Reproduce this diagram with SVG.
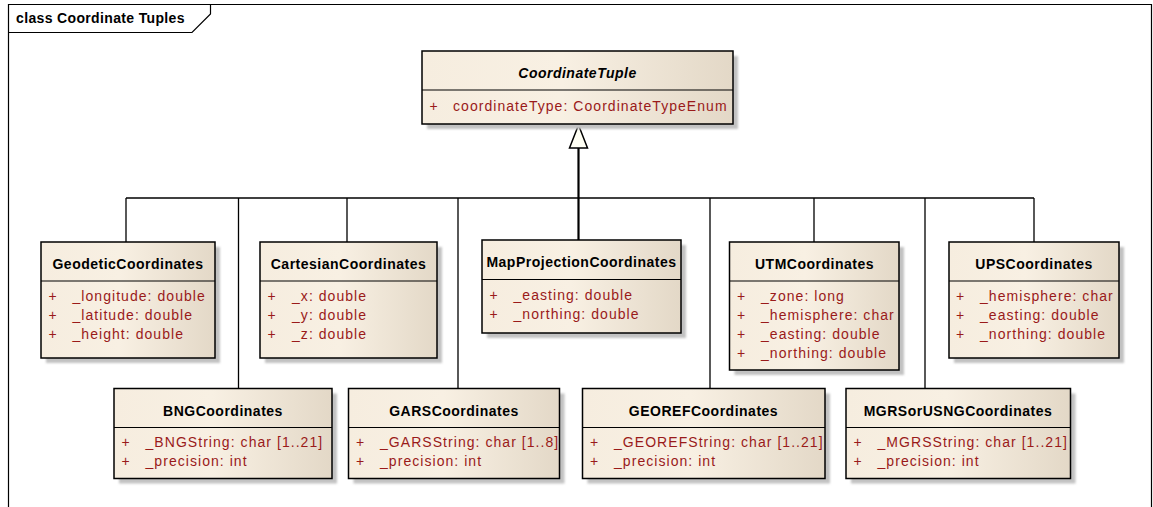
<svg xmlns="http://www.w3.org/2000/svg" width="1153" height="507" viewBox="0 0 1153 507">
<defs>
<linearGradient id="fill" x1="0" y1="0" x2="1" y2="0">
<stop offset="0" stop-color="#f6eddf"/>
<stop offset="0.45" stop-color="#f8f0e3"/>
<stop offset="1" stop-color="#e3d8c7"/>
</linearGradient>
<filter id="blur" x="-5%" y="-5%" width="110%" height="110%"><feGaussianBlur stdDeviation="0.8"/></filter>
</defs>
<style>
.shadow{fill:#c2c2c2;filter:url(#blur)}
.box{fill:url(#fill);stroke:#000;stroke-width:1.5}
.div{stroke:#000;stroke-width:1.2}
.title{font-family:"Liberation Sans",Arial,sans-serif;font-size:14px;font-weight:bold;fill:#000;text-anchor:middle;letter-spacing:0.5px}
.attr{font-family:"Liberation Sans",Arial,sans-serif;font-size:14px;fill:#9a1a1a;letter-spacing:1.05px}
.frame{fill:none;stroke:#000;stroke-width:1.2}
.conn{fill:none;stroke:#000;stroke-width:1.3}
</style>
<rect width="1153" height="507" fill="#fff"/>
<g id="frame">
<path class="frame" d="M8.5,507 V4.5 H1151.5 V507"/>
<path class="frame" d="M8.5,32.5 H192 L210.5,14 V4.5"/>
<text x="16" y="23" style="font-family:'Liberation Sans',Arial,sans-serif;font-size:14px;font-weight:bold;letter-spacing:0.35px">class Coordinate Tuples</text>
</g>
<g id="connectors">
<path class="conn" d="M126,198 H1034"/>
<path class="conn" d="M126,198 V242 M238.5,198 V388.5 M347,198 V242 M458,198 V388.5 M710,198 V388.5 M814,198 V242 M925,198 V388.5 M1034,198 V242"/>
<path d="M578.5,148 V240" stroke="#000" stroke-width="2.2" fill="none"/>
<polygon points="578.5,125 569.5,148 587.5,148" fill="#fffff4" stroke="#000" stroke-width="1.5" stroke-linejoin="miter"/>
</g>
<g id="CoordinateTuple">
<rect class="shadow" x="427" y="56" width="311" height="73"/>
<rect class="box" x="422" y="51" width="311" height="73"/>
<line class="div" x1="422" y1="90" x2="733" y2="90"/>
<text class="title" x="577.5" y="78" font-style="italic">CoordinateTuple</text>
<text class="attr" x="429.5" y="111">+</text>
<text class="attr" x="453" y="111">coordinateType: CoordinateTypeEnum</text>
</g>
<g id="GeodeticCoordinates">
<rect class="shadow" x="46" y="247" width="174" height="116"/>
<rect class="box" x="41" y="242" width="174" height="116"/>
<line class="div" x1="41" y1="281" x2="215" y2="281"/>
<text class="title" x="128" y="269">GeodeticCoordinates</text>
<text class="attr" x="48.5" y="301">+</text><text class="attr" x="72.5" y="301">_longitude: double</text>
<text class="attr" x="48.5" y="320">+</text><text class="attr" x="72.5" y="320">_latitude: double</text>
<text class="attr" x="48.5" y="339">+</text><text class="attr" x="72.5" y="339">_height: double</text>
</g>
<g id="CartesianCoordinates">
<rect class="shadow" x="265" y="247" width="177" height="116"/>
<rect class="box" x="260" y="242" width="177" height="116"/>
<line class="div" x1="260" y1="281" x2="437" y2="281"/>
<text class="title" x="348.5" y="269">CartesianCoordinates</text>
<text class="attr" x="267.5" y="301">+</text><text class="attr" x="292" y="301">_x: double</text>
<text class="attr" x="267.5" y="320">+</text><text class="attr" x="292" y="320">_y: double</text>
<text class="attr" x="267.5" y="339">+</text><text class="attr" x="292" y="339">_z: double</text>
</g>
<g id="MapProjectionCoordinates">
<rect class="shadow" x="487" y="245" width="199" height="93"/>
<rect class="box" x="482" y="240" width="199" height="93"/>
<line class="div" x1="482" y1="279.5" x2="681" y2="279.5"/>
<text class="title" x="581.5" y="267">MapProjectionCoordinates</text>
<text class="attr" x="489.5" y="299.5">+</text><text class="attr" x="513.5" y="299.5">_easting: double</text>
<text class="attr" x="489.5" y="318.5">+</text><text class="attr" x="513.5" y="318.5">_northing: double</text>
</g>
<g id="UTMCoordinates">
<rect class="shadow" x="734.5" y="247" width="169.5" height="128"/>
<rect class="box" x="729.5" y="242" width="169.5" height="128"/>
<line class="div" x1="729.5" y1="281" x2="899" y2="281"/>
<text class="title" x="814.5" y="269">UTMCoordinates</text>
<text class="attr" x="737" y="301">+</text><text class="attr" x="761" y="301">_zone: long</text>
<text class="attr" x="737" y="320">+</text><text class="attr" x="761" y="320">_hemisphere: char</text>
<text class="attr" x="737" y="339">+</text><text class="attr" x="761" y="339">_easting: double</text>
<text class="attr" x="737" y="358">+</text><text class="attr" x="761" y="358">_northing: double</text>
</g>
<g id="UPSCoordinates">
<rect class="shadow" x="954" y="247" width="170" height="116"/>
<rect class="box" x="949" y="242" width="170" height="116"/>
<line class="div" x1="949" y1="281" x2="1119" y2="281"/>
<text class="title" x="1034" y="269">UPSCoordinates</text>
<text class="attr" x="956" y="301">+</text><text class="attr" x="980" y="301">_hemisphere: char</text>
<text class="attr" x="956" y="320">+</text><text class="attr" x="980" y="320">_easting: double</text>
<text class="attr" x="956" y="339">+</text><text class="attr" x="980" y="339">_northing: double</text>
</g>
<g id="BNGCoordinates">
<rect class="shadow" x="119" y="393.5" width="218" height="90"/>
<rect class="box" x="114" y="388.5" width="218" height="90"/>
<line class="div" x1="114" y1="427.5" x2="332" y2="427.5"/>
<text class="title" x="223" y="415.5">BNGCoordinates</text>
<text class="attr" x="121.5" y="447">+</text><text class="attr" x="145.5" y="447">_BNGString: char [1..21]</text>
<text class="attr" x="121.5" y="466">+</text><text class="attr" x="145.5" y="466">_precision: int</text>
</g>
<g id="GARSCoordinates">
<rect class="shadow" x="353.5" y="393.5" width="211" height="90"/>
<rect class="box" x="348.5" y="388.5" width="211" height="90"/>
<line class="div" x1="348.5" y1="427.5" x2="559.5" y2="427.5"/>
<text class="title" x="454" y="415.5">GARSCoordinates</text>
<text class="attr" x="356" y="447">+</text><text class="attr" x="380" y="447">_GARSString: char [1..8]</text>
<text class="attr" x="356" y="466">+</text><text class="attr" x="380" y="466">_precision: int</text>
</g>
<g id="GEOREFCoordinates">
<rect class="shadow" x="587.5" y="393.5" width="242.5" height="90"/>
<rect class="box" x="582.5" y="388.5" width="242.5" height="90"/>
<line class="div" x1="582.5" y1="427.5" x2="825" y2="427.5"/>
<text class="title" x="703.5" y="415.5">GEOREFCoordinates</text>
<text class="attr" x="590" y="447">+</text><text class="attr" x="614" y="447">_GEOREFString: char [1..21]</text>
<text class="attr" x="590" y="466">+</text><text class="attr" x="614" y="466">_precision: int</text>
</g>
<g id="MGRSorUSNGCoordinates">
<rect class="shadow" x="851" y="393.5" width="224.5" height="90"/>
<rect class="box" x="846" y="388.5" width="224.5" height="90"/>
<line class="div" x1="846" y1="427.5" x2="1070.5" y2="427.5"/>
<text class="title" x="958" y="415.5">MGRSorUSNGCoordinates</text>
<text class="attr" x="853.5" y="447">+</text><text class="attr" x="877.5" y="447">_MGRSString: char [1..21]</text>
<text class="attr" x="853.5" y="466">+</text><text class="attr" x="877.5" y="466">_precision: int</text>
</g>
</svg>
